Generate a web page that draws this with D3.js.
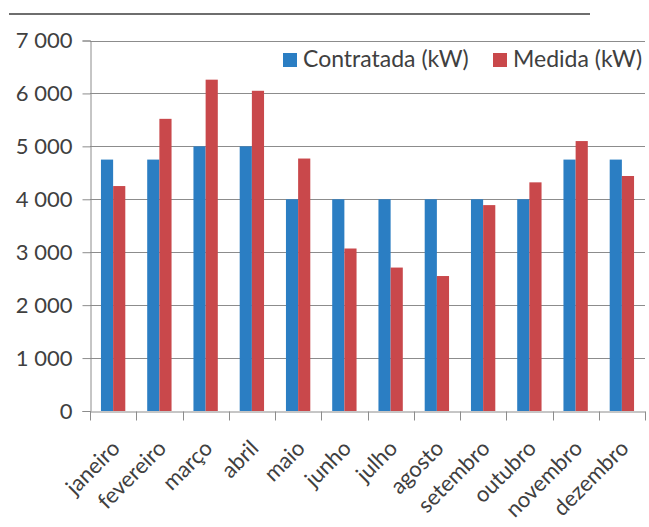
<!DOCTYPE html>
<html>
<head>
<meta charset="utf-8">
<script src="https://cdn.jsdelivr.net/npm/d3@7"></script>
<style>
  html, body { margin: 0; padding: 0; background: #ffffff; }
  svg { display: block; }
  text { font-family: Lato, "Open Sans", sans-serif; fill: #404040; }
</style>
</head>
<body>
<svg id="chart" width="649" height="527"></svg>
<script>
const months = ["janeiro","fevereiro","março","abril","maio","junho","julho","agosto","setembro","outubro","novembro","dezembro"];
const contratada = [4750,4750,5000,5000,4000,4000,4000,4000,4000,4000,4750,4750];
const medida = [4250,5520,6260,6050,4770,3070,2710,2550,3890,4320,5100,4440];
const seriesNames = ["Contratada (kW)", "Medida (kW)"];
const seriesColors = ["#2b7ec3", "#c9484b"];
const yTicks = [0,1000,2000,3000,4000,5000,6000,7000];

const svg = d3.select("#chart");
const W = 649, H = 527;
const margin = {left: 90, right: 4, top: 40.5, bottom: 116};

const x = d3.scaleBand().domain(months).range([margin.left, W - margin.right]).paddingInner(0).paddingOuter(0);
const xs = d3.scaleBand().domain([0,1]).range([0, x.bandwidth()]).paddingInner(0).paddingOuter(0.9);
const y = d3.scaleLinear().domain([0, 7000]).range([H - margin.bottom, margin.top]);

const fmt = v => d3.format(",")(v).replace(/,/g, " ");

// top decorative line
svg.append("line").attr("x1", 9).attr("x2", 590).attr("y1", 14).attr("y2", 14)
  .attr("stroke", "#6e6e6e").attr("stroke-width", 2);

// gridlines
svg.append("g").selectAll("line").data(yTicks.filter(d => d > 0)).join("line")
  .attr("x1", margin.left).attr("x2", W - margin.right)
  .attr("y1", d => Math.round(y(d)) + 0.5).attr("y2", d => Math.round(y(d)) + 0.5)
  .attr("stroke", "#8c8c8c").attr("stroke-width", 1);

// y axis
const yAxis = d3.axisLeft(y).tickValues(yTicks).tickFormat(fmt).tickSize(8).tickPadding(10);
const gy = svg.append("g").attr("transform", `translate(${margin.left + 0.5},0)`).call(yAxis);
gy.select(".domain").attr("stroke", "#8c8c8c");
gy.selectAll(".tick line").attr("stroke", "#8c8c8c");
gy.selectAll(".tick text").style("font-size", "22px").attr("fill", "#404040");

// bars
const groups = svg.append("g").selectAll("g").data(months).join("g")
  .attr("transform", d => `translate(${x(d)},0)`);
groups.selectAll("rect").data((d, i) => [contratada[i], medida[i]]).join("rect")
  .attr("x", (v, j) => xs(j))
  .attr("width", xs.bandwidth())
  .attr("y", v => y(v))
  .attr("height", v => y(0) - y(v))
  .attr("fill", (v, j) => seriesColors[j]);

// x axis
const xAxis = d3.axisBottom(x).tickSize(0).tickFormat(d => d);
const gx = svg.append("g").attr("transform", `translate(0,${Math.round(y(0)) + 0.5})`).call(xAxis);
gx.select(".domain").attr("stroke", "#8c8c8c");
// boundary ticks
const bounds = months.map(m => x(m)).concat([x(months[months.length - 1]) + x.bandwidth()]);
gx.append("g").selectAll("line").data(bounds).join("line")
  .attr("x1", d => Math.round(d) + 0.5).attr("x2", d => Math.round(d) + 0.5)
  .attr("y1", 0).attr("y2", 9).attr("stroke", "#8c8c8c");
gx.selectAll(".tick text")
  .style("font-size", "22px").attr("fill", "#404040")
  .attr("text-anchor", "end")
  .attr("dy", "0")
  .attr("transform", "translate(6,36) rotate(-45)");

// legend
const legendItems = [{x: 283, name: seriesNames[0], color: seriesColors[0]},
                     {x: 493, name: seriesNames[1], color: seriesColors[1]}];
const lg = svg.append("g");
legendItems.forEach(it => {
  lg.append("rect").attr("x", it.x).attr("y", 53).attr("width", 14).attr("height", 14).attr("fill", it.color);
  lg.append("text").attr("x", it.x + 20).attr("y", 67).style("font-size", "23px").text(it.name);
});
</script>
</body>
</html>
